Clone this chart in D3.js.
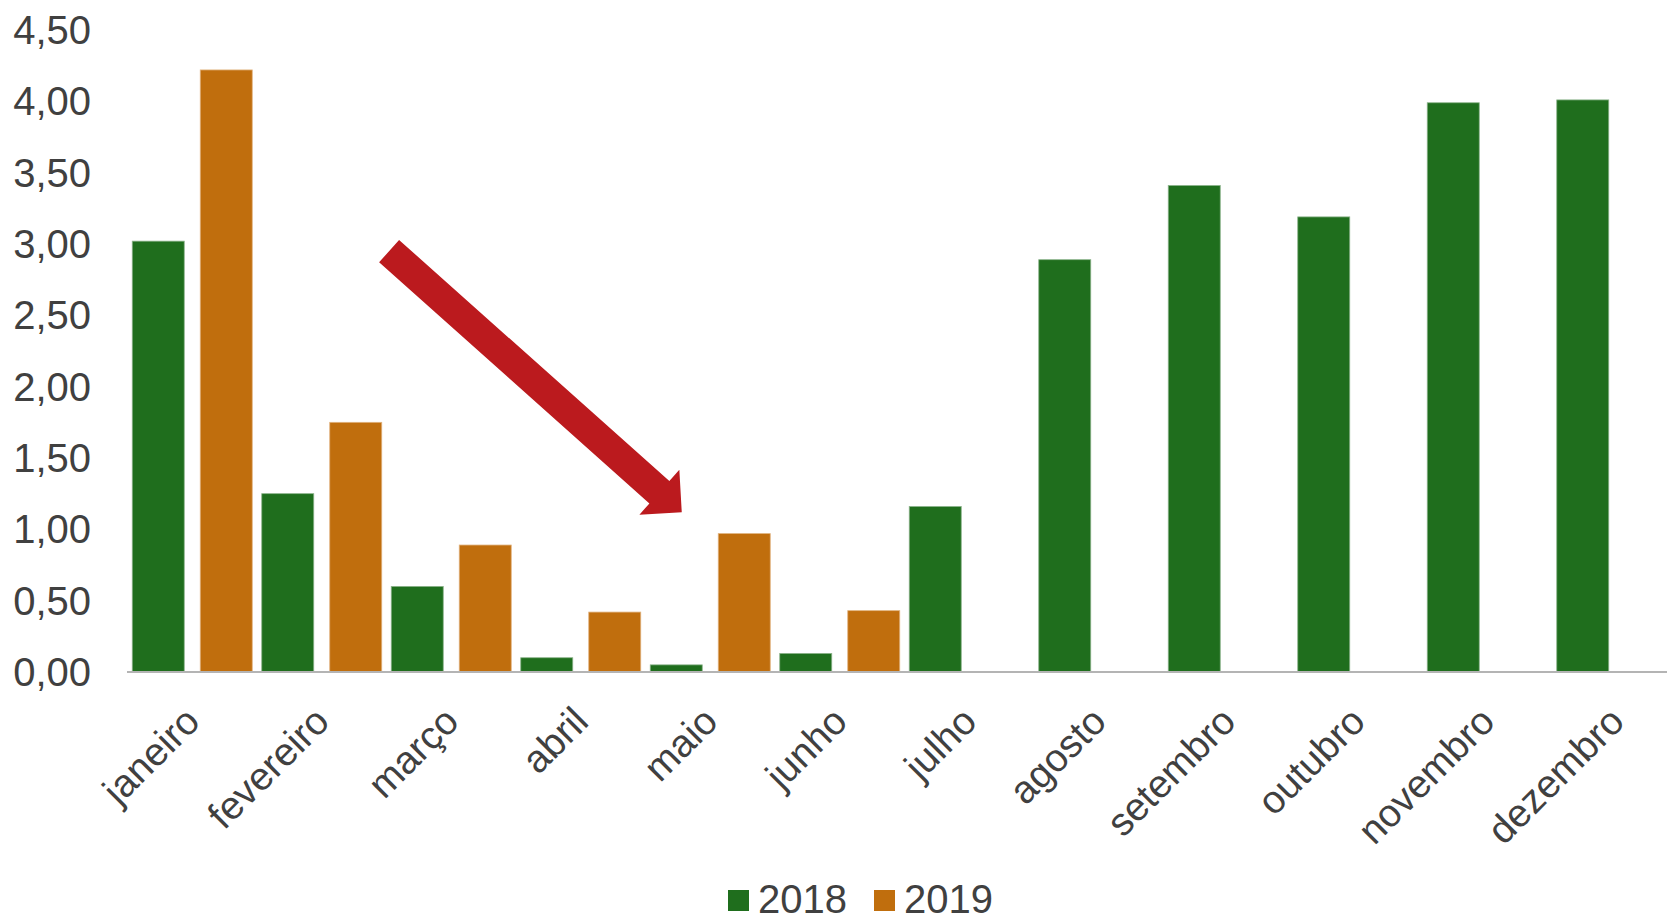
<!DOCTYPE html>
<html>
<head>
<meta charset="utf-8">
<script src="https://cdn.jsdelivr.net/npm/d3@7"></script>
<style>
  body { margin: 0; background: #fff; }
  text { font-family: "Liberation Sans", Arial, sans-serif; fill: #404040; }
</style>
</head>
<body>
<svg id="chart" width="1667" height="916"></svg>
<script>
// données
const months = ['janeiro','fevereiro','março','abril','maio','junho','julho','agosto','setembro','outubro','novembro','dezembro'];
const series = ['2018','2019'];
const values2018 = [3.02,1.25,0.60,0.10,0.05,0.13,1.16,2.89,3.41,3.19,3.99,4.01];
const values2019 = [4.22,1.75,0.89,0.42,0.97,0.43,null,null,null,null,null,null];
const yTicks = [0,0.5,1,1.5,2,2.5,3,3.5,4,4.5];
const colors = ['#1f6e1d','#c06e0d'];
// flèche : [indice du mois, valeur] début et pointe
const arrowFrom = [2.02, 2.95];
const arrowTo = [4.28, 1.12];

const svg = d3.select('#chart');
const x0 = 127.5, zeroY = 672, step = 129.5;

const x = d3.scaleBand().domain(months).range([x0, x0 + step*months.length]).padding(0);
const x1 = d3.scaleBand().domain(series).range([4.75, x.bandwidth()-4.75]).paddingInner(16/68).paddingOuter(0);
const y = d3.scaleLinear().domain([0,4.5]).range([zeroY, 30]);
const xi = d3.scaleLinear().domain([0, months.length]).range(x.range());

const fr = d3.formatLocale({decimal: ',', thousands: '.', grouping: [3], currency: ['R$','']});
const fmt = fr.format('.2f');

// axe y (labels seulement)
svg.append('g').selectAll('text').data(yTicks).enter()
  .append('text')
  .attr('x', 91).attr('y', d => y(d)).attr('dy', '0.35em')
  .attr('text-anchor', 'end').style('font-size', '40px')
  .text(d => fmt(d));

// barres
const rows = months.map((m,i) => ({month: m, vals: [values2018[i], values2019[i]]}));
const g = svg.append('g');
rows.forEach(r => {
  r.vals.forEach((v,j) => {
    if (v == null) return;
    g.append('rect')
      .attr('x', x(r.month) + x1(series[j]))
      .attr('width', x1.bandwidth())
      .attr('y', y(v))
      .attr('height', y(0) - y(v))
      .attr('fill', colors[j])
      .attr('stroke', j ? '#e0b27e' : '#8bb38a')
      .attr('stroke-width', 0.8);
  });
});

// ligne de base
svg.append('line')
  .attr('x1', 127).attr('x2', 1667)
  .attr('y1', zeroY).attr('y2', zeroY)
  .attr('stroke', '#b4b4b4').attr('stroke-width', 2);

// labels x
svg.append('g').selectAll('text').data(months).enter()
  .append('text')
  .attr('transform', d => `translate(${x(d) + x.bandwidth()/2},${zeroY + 42}) rotate(-45)`)
  .attr('dy', '0.35em')
  .attr('text-anchor', 'end').style('font-size', '39px')
  .text(d => d);

// flèche
(function(){
  const ax = xi(arrowFrom[0]), ay = y(arrowFrom[1]);
  const bx = xi(arrowTo[0]), by = y(arrowTo[1]);
  const len = Math.hypot(bx-ax, by-ay), ang = Math.atan2(by-ay, bx-ax)*180/Math.PI;
  const w = 15, hw = 30, hl = 30;
  const pts = [[0,-w],[len-hl,-w],[len-hl,-hw],[len,0],[len-hl,hw],[len-hl,w],[0,w]];
  svg.append('path')
    .attr('d', d3.line()(pts) + 'Z')
    .attr('transform', `translate(${ax},${ay}) rotate(${ang})`)
    .attr('fill', '#bb1a1e');
})();

// légende
const leg = svg.append('g').attr('transform', 'translate(728,890)');
series.forEach((s,i) => {
  const lg = leg.append('g').attr('transform', `translate(${i*146},0)`);
  lg.append('rect').attr('width', 21).attr('height', 21).attr('fill', colors[i]);
  lg.append('text').attr('x', 30).attr('y', 23).style('font-size', '40px').text(s);
});
</script>
</body>
</html>
